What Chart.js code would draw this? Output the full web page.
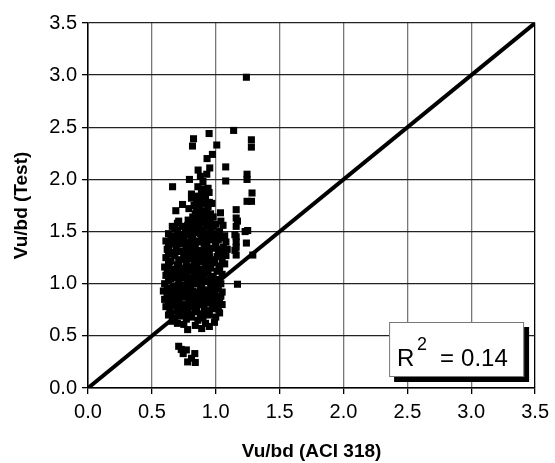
<!DOCTYPE html>
<html>
<head>
<meta charset="utf-8">
<script src="https://cdn.jsdelivr.net/npm/chart.js@4/dist/chart.umd.min.js"></script>
<style>
  html, body { margin: 0; padding: 0; background: #fff; }
  #wrap { width: 555px; height: 463px; }
</style>
</head>
<body>
<div id="wrap"><canvas id="shearChart"></canvas></div>
<script>
// axis ticks (both axes share them)
var tickValues = [0, 0.5, 1.0, 1.5, 2.0, 2.5, 3.0, 3.5];
var equalityLine = [[0, 0], [3.5, 3.5]];
var rSquared = "0.14";

// [Vu/bd (ACI 318), Vu/bd (Test)]
var specimens = [
  [0.71,0.40],[0.77,0.365],[0.745,0.33],[0.836,0.33],[0.78,0.25],[0.84,0.245],[0.81,0.285],[0.73,0.37],
  [0.78,0.56],[0.89,0.57],[0.95,0.59],[0.84,0.60],[0.70,0.62],[0.66,0.64],[0.75,0.61],[0.92,0.62],[0.99,0.63],
  [0.63,0.70],[0.68,0.67],[0.72,0.69],[0.77,0.66],[0.81,0.68],[0.86,0.65],[0.90,0.67],[0.95,0.70],[1.00,0.68],[1.03,0.72],[0.74,0.72],[0.88,0.71],
  [0.61,0.78],[0.64,0.75],[0.69,0.79],[0.73,0.76],[0.78,0.74],[0.82,0.78],[0.85,0.75],[0.91,0.77],[0.94,0.74],[0.98,0.79],[1.02,0.76],[1.05,0.80],[0.76,0.80],[0.87,0.80],
  [0.60,0.85],[0.63,0.82],[0.67,0.86],[0.71,0.83],[0.75,0.87],[0.79,0.84],[0.83,0.88],[0.86,0.83],[0.90,0.86],[0.93,0.82],[0.97,0.87],[1.01,0.84],[1.04,0.88],[0.69,0.88],[0.88,0.88],
  [0.59,0.93],[0.62,0.90],[0.65,0.95],[0.70,0.91],[0.73,0.94],[0.77,0.90],[0.80,0.95],[0.84,0.92],[0.88,0.96],[0.91,0.91],[0.95,0.94],[0.99,0.90],[1.02,0.95],[1.05,0.92],[0.86,0.90],
  [0.60,1.00],[0.63,1.03],[0.67,0.98],[0.71,1.02],[0.74,0.99],[0.78,1.04],[0.82,1.00],[0.85,1.03],[0.89,0.99],[0.93,1.02],[0.96,0.98],[1.00,1.03],[1.04,1.00],[1.17,0.995],[0.76,0.98],
  [0.61,1.08],[0.64,1.11],[0.68,1.06],[0.72,1.10],[0.75,1.07],[0.79,1.12],[0.83,1.08],[0.87,1.11],[0.90,1.06],[0.94,1.10],[0.98,1.07],[1.01,1.12],[1.05,1.09],[0.81,1.05],
  [0.60,1.16],[0.63,1.19],[0.66,1.14],[0.70,1.18],[0.74,1.15],[0.77,1.20],[0.81,1.16],[0.85,1.19],[0.88,1.14],[0.92,1.18],[0.96,1.15],[0.99,1.20],[1.03,1.17],[1.07,1.19],
  [0.61,1.25],[0.65,1.22],[0.68,1.27],[0.72,1.23],[0.76,1.28],[0.79,1.24],[0.83,1.22],[0.86,1.27],[0.90,1.24],[0.93,1.28],[0.97,1.23],[1.01,1.26],[1.05,1.22],[1.08,1.27],[1.16,1.275],[1.29,1.275],
  [0.62,1.33],[0.66,1.30],[0.69,1.35],[0.73,1.31],[0.77,1.34],[0.80,1.30],[0.84,1.36],[0.87,1.32],[0.91,1.35],[0.95,1.30],[0.98,1.34],[1.02,1.31],[1.06,1.35],[1.15,1.32],[1.09,1.33],
  [0.61,1.41],[0.64,1.38],[0.68,1.43],[0.71,1.39],[0.75,1.42],[0.79,1.38],[0.82,1.44],[0.86,1.40],[0.89,1.43],[0.93,1.38],[0.97,1.42],[1.00,1.39],[1.04,1.44],[1.08,1.40],[1.24,1.39],
  [0.63,1.48],[0.67,1.46],[0.70,1.51],[0.74,1.47],[0.78,1.50],[0.81,1.46],[0.85,1.52],[0.88,1.48],[0.92,1.46],[0.96,1.51],[0.99,1.47],[1.03,1.50],[1.07,1.46],[1.15,1.47],[1.23,1.50],[1.25,1.51],
  [0.66,1.55],[0.70,1.58],[0.74,1.55],[0.78,1.56],[0.82,1.59],[0.85,1.55],[0.89,1.58],[0.93,1.55],[0.96,1.60],[1.00,1.57],[1.057,1.56],[1.16,1.55],[0.71,1.60],[1.04,1.60],
  [0.784,1.61],[0.82,1.64],[0.86,1.62],[0.89,1.66],[0.93,1.63],[0.96,1.67],[1.037,1.68],[1.16,1.71],[1.16,1.63],[0.6875,1.70],[0.79,1.72],[0.85,1.69],[0.91,1.70],[0.98,1.64],
  [0.83,1.75],[0.87,1.73],[0.90,1.77],[0.94,1.74],[0.86,1.79],[0.92,1.80],[1.245,1.79],[1.28,1.79],[0.97,1.77],[0.74,1.76],
  [0.81,1.86],[0.81,1.82],[0.888,1.87],[0.948,1.875],[1.284,1.87],[0.87,1.83],[0.92,1.84],[0.94,1.915],[0.662,1.93],[0.90,1.91],
  [0.794,2.00],[0.90,1.98],[1.078,1.985],[1.245,2.05],[1.245,2.00],[0.862,2.09],[0.953,2.11],[1.078,2.12],[0.88,2.03],[0.93,2.05],
  [0.932,2.20],[0.974,2.24],[1.279,2.31],[1.279,2.38],[1.008,2.33],[0.818,2.32],[0.826,2.39],[0.948,2.44],[1.14,2.47],[1.24,2.98],
  [1.16,1.45],[1.16,1.40],[1.17,1.60],[1.16,1.35],
  // dense core, second pass
  [0.65,0.72],[0.70,0.74],[0.79,0.71],[0.84,0.73],[0.93,0.72],[0.97,0.76],[0.66,0.80],[0.71,0.81],[0.80,0.81],[0.89,0.83],[0.95,0.84],[1.00,0.81],
  [0.62,0.87],[0.73,0.89],[0.78,0.88],[0.82,0.85],[0.92,0.89],[0.97,0.92],[1.03,0.86],[0.67,0.92],[0.75,0.93],[0.82,0.93],[0.90,0.94],[1.00,0.97],
  [0.62,0.96],[0.69,0.97],[0.80,0.99],[0.87,1.00],[0.91,1.03],[0.98,1.01],[1.02,1.04],[0.65,1.05],[0.73,1.06],[0.77,1.09],[0.86,1.07],[0.96,1.05],
  [0.62,1.13],[0.68,1.12],[0.72,1.14],[0.79,1.16],[0.83,1.13],[0.91,1.12],[0.95,1.19],[1.03,1.13],[0.64,1.21],[0.71,1.21],[0.75,1.24],[0.81,1.27],
  [0.88,1.21],[0.95,1.25],[0.99,1.22],[1.03,1.28],[0.63,1.29],[0.70,1.31],[0.75,1.30],[0.82,1.32],[0.89,1.30],[0.93,1.33],[1.00,1.36],[1.04,1.33],
  [0.63,1.36],[0.67,1.39],[0.73,1.38],[0.77,1.40],[0.84,1.41],[0.91,1.40],[0.95,1.44],[1.02,1.42],[0.65,1.44],[0.72,1.45],[0.76,1.47],[0.83,1.49],
  [0.90,1.51],[0.94,1.48],[1.01,1.48],[0.68,1.53],[0.76,1.53],[0.80,1.55],[0.87,1.56],[0.91,1.60],[0.98,1.55],[0.84,1.61],[0.88,1.64],[0.95,1.64],
  [0.84,1.67],[0.87,1.70],[0.93,1.68],[0.85,1.76],[0.89,1.80],[0.95,1.78],[0.84,1.84],[0.90,1.87],[0.86,1.93]
];

var FONT = "'Liberation Sans', Arial, sans-serif";

// R^2 box with drop shadow in the lower right corner of the plot
var rBoxPlugin = {
  id: "rBox",
  afterDraw: function (chart) {
    var ctx = chart.ctx;
    var area = chart.chartArea;
    var w = 135, h = 55;
    var x = area.right - 11 - w;
    var y = area.bottom - 11 - h;
    ctx.save();
    ctx.fillStyle = "#000";
    ctx.fillRect(x + 5, y + 5, w, h);
    ctx.fillStyle = "#fff";
    ctx.fillRect(x, y, w, h);
    ctx.strokeStyle = "#777";
    ctx.lineWidth = 1;
    ctx.strokeRect(x + 0.5, y + 0.5, w - 1, h - 1);
    ctx.fillStyle = "#000";
    ctx.textBaseline = "alphabetic";
    ctx.textAlign = "left";
    ctx.font = "24px " + FONT;
    ctx.fillText("R", x + 8, y + 44);
    ctx.font = "18px " + FONT;
    ctx.fillText("2", x + 28, y + 28);
    ctx.font = "24px " + FONT;
    ctx.fillText("=", x + 51, y + 44);
    ctx.fillText(rSquared, x + 72, y + 44);
    ctx.restore();
  }
};

var tickFont = { family: FONT, size: 20 };
var titleFont = { family: FONT, size: 19, weight: "bold" };

var config = {
  type: "scatter",
  data: {
    datasets: [{
      type: "line",
      data: equalityLine.map(function (p) { return { x: p[0], y: p[1] }; }),
      borderColor: "#000",
      borderWidth: 4,
      pointRadius: 0,
      fill: false,
      order: 0
    }, {
      data: specimens.map(function (p) { return { x: p[0], y: p[1] }; }),
      pointStyle: "rect",
      pointRadius: 5,
      pointBorderWidth: 0,
      backgroundColor: "#000",
      borderColor: "#000",
      order: 1
    }]
  },
  options: {
    responsive: true,
    maintainAspectRatio: false,
    animation: false,
    layout: { padding: { top: 23, right: 19, left: 0, bottom: 0 } },
    plugins: { legend: { display: false }, tooltip: { enabled: false } },
    scales: {
      x: {
        type: "linear",
        min: 0, max: 3.5,
        afterBuildTicks: function (s) { s.ticks = tickValues.map(function (v) { return { value: v }; }); },
        afterFit: function (s) { s.height = 75; },
        ticks: { font: tickFont, color: "#000", padding: 6, callback: function (v) { return v.toFixed(1); }, maxRotation: 0 },
        grid: {
          color: function (c) { return c.index === tickValues.length - 1 ? "#000" : "#777"; },
          lineWidth: 1.3,
          tickLength: 6,
          tickColor: "#000"
        },
        border: { display: true, color: "#000", width: 1.5 },
        title: { display: true, text: "Vu/bd (ACI 318)", font: titleFont, color: "#000", padding: { top: 10, bottom: 0 } }
      },
      y: {
        type: "linear",
        min: 0, max: 3.5,
        afterBuildTicks: function (s) { s.ticks = tickValues.map(function (v) { return { value: v }; }); },
        afterFit: function (s) { s.width = 88; },
        ticks: { font: tickFont, color: "#000", padding: 5, callback: function (v) { return v.toFixed(1); } },
        grid: {
          color: "#222",
          lineWidth: 1.3,
          tickLength: 6,
          tickColor: "#000"
        },
        border: { display: true, color: "#000", width: 1.5 },
        title: { display: true, text: "Vu/bd (Test)", font: titleFont, color: "#000", padding: { top: 10, bottom: 0 } }
      }
    }
  },
  plugins: [rBoxPlugin]
};

var shearChart = new Chart(document.getElementById("shearChart"), config);
</script>
</body>
</html>
